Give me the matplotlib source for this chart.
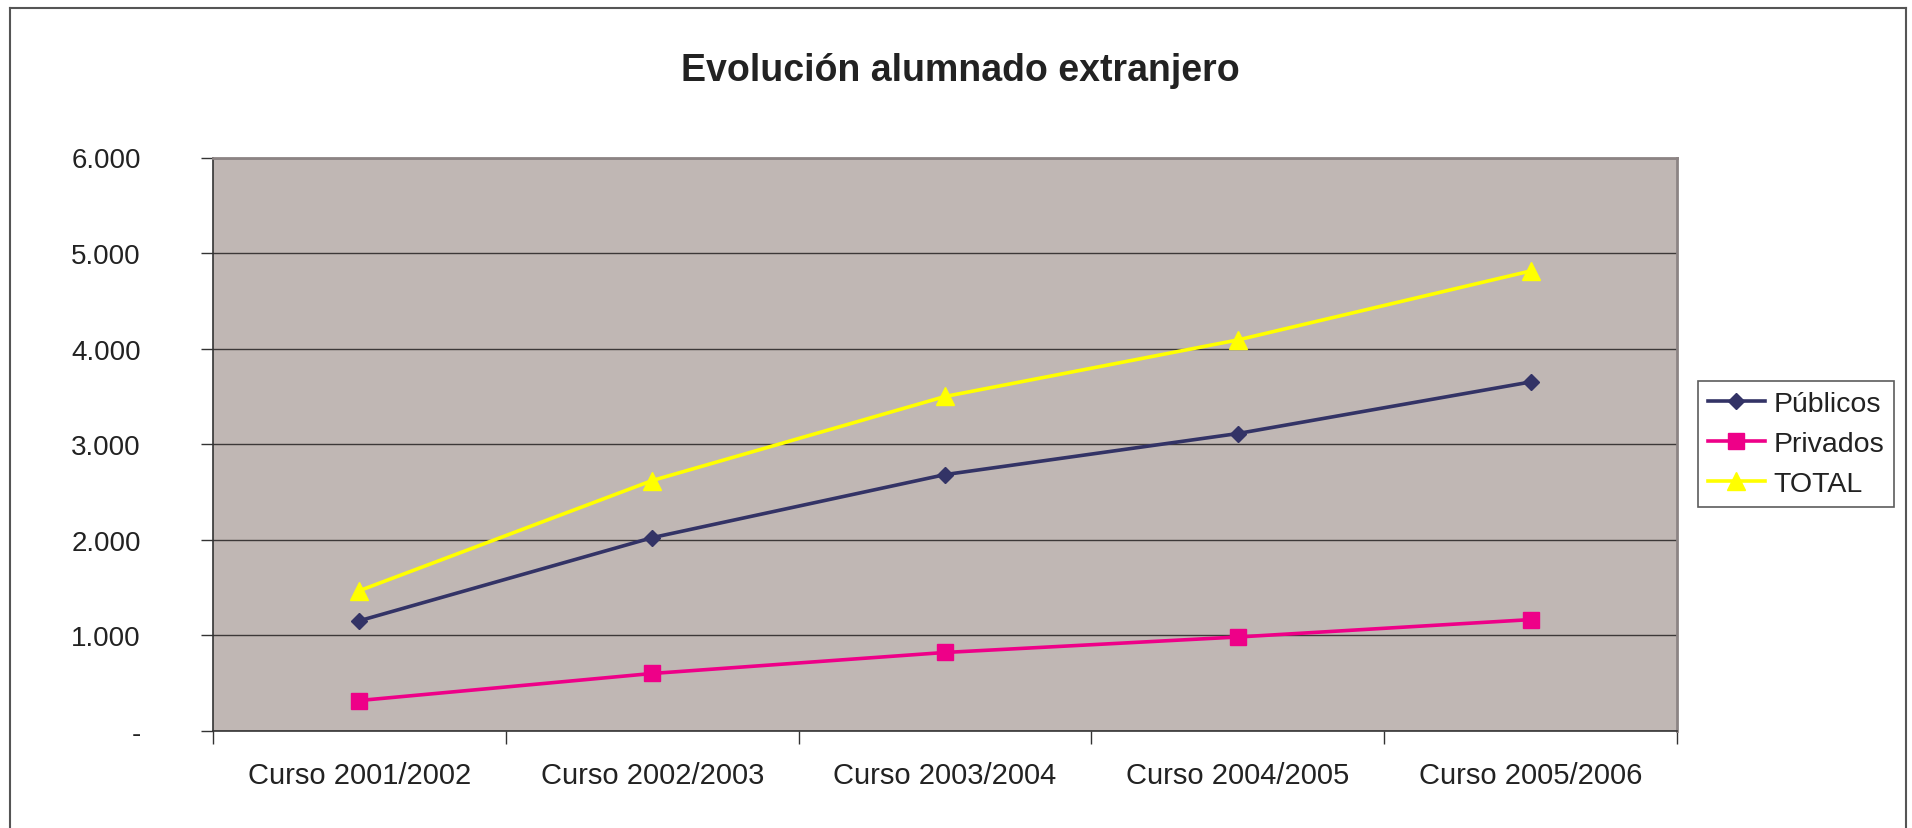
import matplotlib
matplotlib.use("Agg")
import matplotlib.pyplot as plt
from matplotlib.lines import Line2D

plt.rcParams['font.family'] = ['Liberation Sans', 'DejaVu Sans']

categories = ["Curso 2001/2002", "Curso 2002/2003", "Curso 2003/2004",
              "Curso 2004/2005", "Curso 2005/2006"]
publicos = [1150, 2020, 2680, 3110, 3650]
privados = [315, 598, 818, 980, 1162]
total = [1465, 2618, 3498, 4090, 4812]
yticks = [0, 1000, 2000, 3000, 4000, 5000, 6000]
ytick_labels = ["-", "1.000", "2.000", "3.000", "4.000", "5.000", "6.000"]

W, H = 1912, 829
fig = plt.figure(figsize=(W / 100, H / 100), dpi=100)
fig.patch.set_facecolor("white")

ax = fig.add_axes([213 / W, 1 - 731.6 / H, (1677 - 213) / W, (731.6 - 158.5) / H])
ax.set_facecolor("#C0B7B4")

x = list(range(len(categories)))
ax.plot(x, publicos, color="#333366", lw=2.6, marker="D", ms=8.5, label="Públicos", zorder=3)
ax.plot(x, privados, color="#EE0088", lw=2.6, marker="s", ms=11.5, label="Privados", zorder=3)
ax.plot(x, total, color="#FFFF00", lw=2.6, marker="^", ms=12.5, label="TOTAL", zorder=3)

ax.set_xlim(-0.5, len(categories) - 0.5)
ax.set_ylim(0, 6000)
ax.set_yticks(yticks)
ax.set_yticklabels(ytick_labels)
ax.yaxis.grid(True, color="#3C3838", lw=1)
ax.set_axisbelow(True)

ax.set_xticks([i - 0.5 for i in range(len(categories) + 1)])
ax.set_xticklabels([])
ax.set_xticks(x, minor=True)
ax.set_xticklabels(categories, minor=True)
ax.tick_params(axis="x", which="minor", length=0, pad=22, labelsize=21, labelcolor="#222222")
ax.tick_params(axis="x", which="major", length=9, width=1, color="#333333", direction="out")
ax.tick_params(axis="y", length=9, width=1, color="#333333", direction="out",
               pad=43, labelsize=20, labelcolor="#222222")

for s in ["top", "right"]:
    ax.spines[s].set_color("#8C8484")
    ax.spines[s].set_linewidth(2)
for s in ["left", "bottom"]:
    ax.spines[s].set_color("#333333")
    ax.spines[s].set_linewidth(1.2)

fig.text(960 / W, 1 - 71 / H, "Evolución alumnado extranjero", ha="center", va="center",
         fontsize=27, fontweight="bold", color="#222222")

leg = fig.legend(loc="upper left", bbox_to_anchor=(1698 / W, 1 - 382 / H),
                 fontsize=20.5, frameon=True, fancybox=False, borderaxespad=0,
                 handlelength=2.0, handletextpad=0.3, labelspacing=0.5,
                 borderpad=0.35, labelcolor="#222222")
leg.get_frame().set_edgecolor("#333333")
leg.get_frame().set_linewidth(1.2)

# outer chart frame
fig.add_artist(Line2D([10 / W, 10 / W], [0, 1 - 9 / H], color="#555555", lw=1.5, transform=fig.transFigure))
fig.add_artist(Line2D([1906 / W, 1906 / W], [0, 1 - 9 / H], color="#555555", lw=1.5, transform=fig.transFigure))
fig.add_artist(Line2D([10 / W, 1906 / W], [1 - 9 / H, 1 - 9 / H], color="#555555", lw=1.5, transform=fig.transFigure))

fig.savefig("out.png", dpi=100)
